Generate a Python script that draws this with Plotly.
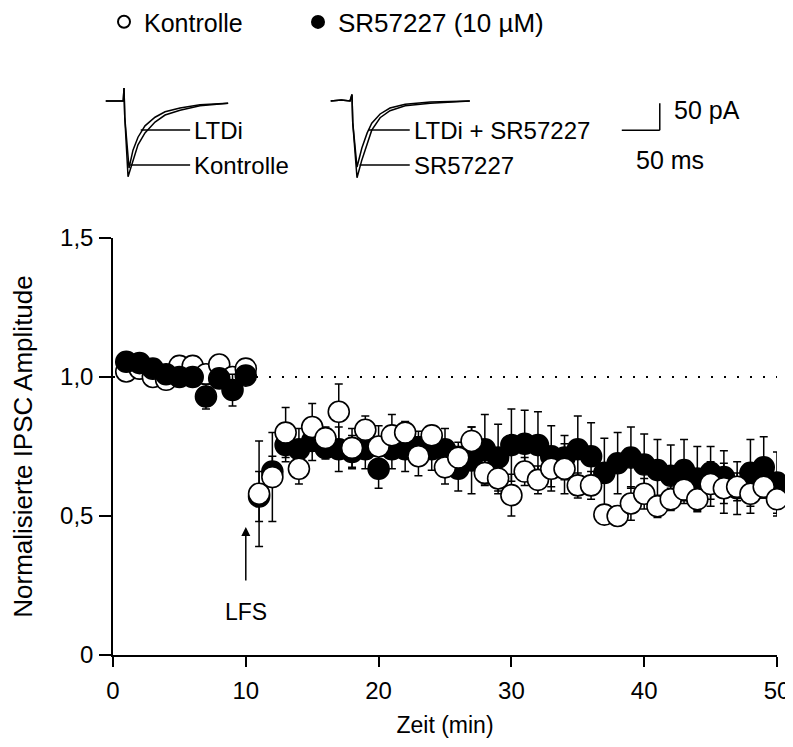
import plotly.graph_objects as go

# ---------------- data ----------------
time_min = list(range(1, 51))

kontrolle = [1.02, 1.03, 1.00, 0.99, 1.04, 1.04, 1.01, 1.045, 1.00, 1.03,
             0.58, 0.64, 0.80, 0.67, 0.82, 0.78, 0.875, 0.745, 0.81, 0.75,
             0.79, 0.80, 0.715, 0.79, 0.675, 0.71, 0.77, 0.655, 0.635, 0.575,
             0.66, 0.63, 0.67, 0.67, 0.61, 0.61, 0.505, 0.50, 0.545, 0.58,
             0.535, 0.56, 0.595, 0.56, 0.615, 0.60, 0.605, 0.58, 0.605, 0.56]
kontrolle_sem = [0.02, 0.02, 0.02, 0.02, 0.02, 0.02, 0.02, 0.02, 0.02, 0.02,
                 0.19, 0.16, 0.09, 0.055, 0.085, 0.04, 0.10, 0.07, 0.05, 0.075,
                 0.075, 0.04, 0.07, 0.035, 0.06, 0.055, 0.05, 0.045, 0.055, 0.075,
                 0.05, 0.05, 0.08, 0.09, 0.045, 0.05, 0.035, 0.035, 0.06, 0.055,
                 0.04, 0.04, 0.05, 0.045, 0.08, 0.09, 0.05, 0.07, 0.04, 0.06]

sr57227 = [1.055, 1.05, 1.03, 1.01, 1.00, 1.00, 0.93, 0.995, 0.953, 1.005,
           0.57, 0.66, 0.755, 0.74, 0.77, 0.745, 0.74, 0.73, 0.74, 0.67,
           0.74, 0.74, 0.745, 0.74, 0.74, 0.67, 0.70, 0.74, 0.71, 0.755,
           0.76, 0.755, 0.715, 0.71, 0.74, 0.715, 0.655, 0.69, 0.71, 0.685,
           0.665, 0.645, 0.665, 0.635, 0.655, 0.64, 0.60, 0.655, 0.675, 0.62]
sr57227_sem = [0.02, 0.02, 0.02, 0.02, 0.02, 0.025, 0.045, 0.03, 0.057, 0.02,
               0.09, 0.055, 0.06, 0.075, 0.07, 0.04, 0.08, 0.06, 0.07, 0.07,
               0.07, 0.08, 0.06, 0.075, 0.075, 0.08, 0.12, 0.125, 0.12, 0.13,
               0.12, 0.12, 0.11, 0.08, 0.12, 0.12, 0.125, 0.11, 0.11, 0.11,
               0.11, 0.11, 0.11, 0.115, 0.095, 0.095, 0.095, 0.12, 0.11, 0.11]

x_ticks = [0, 10, 20, 30, 40, 50]
y_ticks = [0, 0.5, 1.0, 1.5]
y_tick_labels = ["0", "0,5", "1,0", "1,5"]
lfs_time = 10

# example current traces (ms, pA)
trace_t_left = [-24, -12, -1, 0, 1, 5.3, 11.8, 18.4, 27.6, 40.8, 54, 73.7, 100, 137]
trace_kontrolle = [0, 0, 0, 24, -30, -140, -109, -81, -59, -39, -26, -17, -9, -4]
trace_t_left_ltd = [-24, -12, -1, 0, 1, 6.6, 11.8, 18.4, 27.6, 40.8, 54, 73.7, 100, 137]
trace_ltdi = [0, 0, 0, 24, -30, -124, -91, -67, -46, -30, -20, -13, -7, -4]

trace_t_right = [-28, -14, -2.6, 0, 1, 6.6, 13, 20, 26, 37, 50, 70, 103, 155]
trace_sr = [0, 2, 0, 12, -40, -142, -109, -78, -54, -31, -18, -9, -4, 0]
trace_ltdi_sr = [0, 2, 0, 12, -40, -122, -87, -59, -41, -24, -13, -6, -2, 0]

scale_ms = 50
scale_pa = 50

FONT = "Liberation Sans, Arial, Helvetica, sans-serif"

fig = go.Figure()

pre = [i for i, t in enumerate(time_min) if t <= lfs_time]
post = [i for i, t in enumerate(time_min) if t > lfs_time]


def sel(arr, idx):
    return [arr[i] for i in idx]


def add_series(idx, y, err, fill, name, show, leg):
    fig.add_trace(go.Scatter(
        x=sel(time_min, idx), y=sel(y, idx), mode="markers", name=name,
        legendgroup=name, showlegend=show, legend=leg, cliponaxis=False,
        marker=dict(symbol="circle", size=21, color=fill,
                    line=dict(color="black", width=1.6)),
        error_y=dict(type="data", array=sel(err, idx), visible=True,
                     color="black", thickness=1.5, width=4),
        xaxis="x", yaxis="y"))


add_series(pre, kontrolle, kontrolle_sem, "white", "Kontrolle", True, "legend")
add_series(pre, sr57227, sr57227_sem, "black", "SR57227 (10 µM)", True, "legend2")
add_series(post, sr57227, sr57227_sem, "black", "SR57227 (10 µM)", False, "legend2")
add_series(post, kontrolle, kontrolle_sem, "white", "Kontrolle", False, "legend")

# inset traces
for tx, ty, ax in [(trace_t_left, trace_kontrolle, "2"), (trace_t_left_ltd, trace_ltdi, "2"),
                   (trace_t_right, trace_sr, "3"), (trace_t_right, trace_ltdi_sr, "3")]:
    fig.add_trace(go.Scatter(x=tx, y=ty, mode="lines", showlegend=False,
                             line=dict(color="black", width=1.5),
                             xaxis="x" + ax, yaxis="y" + ax, hoverinfo="skip"))

# layout geometry (page has an 8px body margin)
OFF = 8
W, H = 793 - OFF, 747 - OFF
ML, MR, MT, MB = 52, 10, 0, 92
pw = W - ML - MR
ph = H - MT - MB


def fx(px):
    return (px - OFF - ML) / pw


def fy(py):
    return (H - MB - (py - OFF)) / ph


def cy(py):
    return 1 - (py - OFF) / H


axis_font = dict(family=FONT, size=24, color="black")

fig.update_layout(
    width=W, height=H,
    margin=dict(l=ML, r=MR, t=MT, b=MB, autoexpand=False),
    paper_bgcolor="white", plot_bgcolor="white",
    font=dict(family=FONT, size=22, color="black"),
    showlegend=True,
    legend=dict(x=fx(104), y=cy(22), xanchor="left", yanchor="middle", yref="container",
                font=dict(family=FONT, size=25, color="black"),
                bgcolor="rgba(0,0,0,0)", itemsizing="constant"),
    legend2=dict(x=fx(298), y=cy(22), xanchor="left", yanchor="middle", yref="container",
                 font=dict(family=FONT, size=26, color="black"),
                 bgcolor="rgba(0,0,0,0)", itemsizing="constant"),
    xaxis=dict(domain=[fx(113), fx(777)], range=[0, 50], tickvals=x_ticks,
               ticks="outside", ticklen=10, tickwidth=1.5, tickcolor="black",
               showline=True, linecolor="black", linewidth=1.5, showgrid=False,
               zeroline=False, tickfont=axis_font, ticklabelstandoff=3,
               title=dict(text="Zeit (min)", font=dict(family=FONT, size=23, color="black"),
                          standoff=14)),
    yaxis=dict(domain=[0, fy(238)], range=[0, 1.5], tickvals=y_ticks, ticktext=y_tick_labels,
               ticks="outside", ticklen=12, tickwidth=1.5, tickcolor="black",
               showline=True, linecolor="black", linewidth=1.5, showgrid=False,
               zeroline=False, tickfont=axis_font, anchor="x", ticklabelstandoff=1,
               title=dict(text="Normalisierte IPSC Amplitude",
                          font=dict(family=FONT, size=26, color="black"), standoff=20)),
    xaxis2=dict(domain=[fx(100), fx(300)], range=[-31.6, 231.6], visible=False, anchor="y2"),
    yaxis2=dict(domain=[fy(190), fy(80)], range=[-164.65, 38.85], visible=False, anchor="x2"),
    xaxis3=dict(domain=[fx(320), fx(780)], range=[-42.1, 563.2], visible=False, anchor="y3"),
    yaxis3=dict(domain=[fy(190), fy(80)], range=[-164.65, 38.85], visible=False, anchor="x3"),
)

# dotted baseline at 1.0
fig.add_shape(type="line", xref="x", yref="y", x0=0, x1=50, y0=1.0, y1=1.0,
              line=dict(color="black", width=2, dash="2px,11px"), layer="below")

# LFS arrow
fig.add_annotation(x=lfs_time, y=0.46, xref="x", yref="y", ax=lfs_time, ay=0.155,
                   axref="x", ayref="y", text="LFS", showarrow=True, arrowhead=2,
                   arrowsize=1.2, arrowwidth=1.5, arrowcolor="black", borderpad=18,
                   font=dict(family=FONT, size=23, color="black"))

lab_font = dict(family=FONT, size=24, color="black")
scale_font = dict(family=FONT, size=25, color="black")

# inset labels and leader lines
for ax, x0, x1, yv, txt in [("2", 22, 87, -53.7, "LTDi"),
                            ("2", 8, 87, -118.4, "Kontrolle"),
                            ("3", 22, 76, -53.7, "LTDi + SR57227"),
                            ("3", 10, 76, -118.4, "SR57227")]:
    fig.add_shape(type="line", xref="x" + ax, yref="y" + ax, x0=x0, x1=x1, y0=yv, y1=yv,
                  line=dict(color="black", width=1.5))
    fig.add_annotation(x=x1 + 3, y=yv, xref="x" + ax, yref="y" + ax, text=txt,
                       showarrow=False, xanchor="left", yanchor="middle", font=lab_font)

# scale bar (50 ms, 50 pA)
sb_x1 = 405
sb_y0 = -54
fig.add_shape(type="line", xref="x3", yref="y3", x0=sb_x1 - scale_ms, x1=sb_x1, y0=sb_y0, y1=sb_y0,
              line=dict(color="black", width=1.5))
fig.add_shape(type="line", xref="x3", yref="y3", x0=sb_x1, x1=sb_x1, y0=sb_y0, y1=sb_y0 + scale_pa,
              line=dict(color="black", width=1.5))
fig.add_annotation(x=sb_x1 + 16, y=-16, xref="x3", yref="y3", text="50 pA", showarrow=False,
                   xanchor="left", yanchor="middle", font=scale_font)
fig.add_annotation(x=sb_x1 + 14, y=-109, xref="x3", yref="y3", text="50 ms", showarrow=False,
                   xanchor="center", yanchor="middle", font=scale_font)

fig.write_html("out.html")
